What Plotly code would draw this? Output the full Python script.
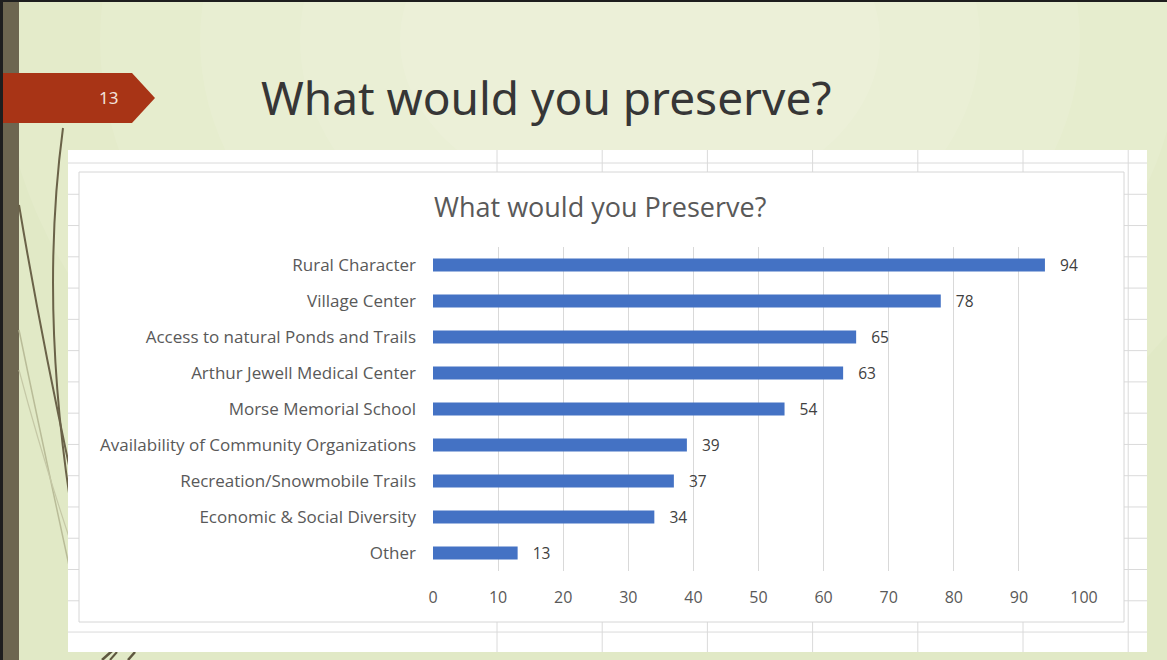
import plotly.graph_objects as go

# Survey responses: "What would you Preserve?"
categories = [
    "Rural Character",
    "Village Center",
    "Access to natural Ponds and Trails",
    "Arthur Jewell Medical Center",
    "Morse Memorial School",
    "Availability of Community Organizations",
    "Recreation/Snowmobile Trails",
    "Economic & Social Diversity",
    "Other",
]
responses = [94, 78, 65, 63, 54, 39, 37, 34, 13]
x_ticks = [0, 10, 20, 30, 40, 50, 60, 70, 80, 90, 100]

W, H = 1167, 660


def px(x):
    return x / W


def py(y):
    return 1 - y / H


def rect(x0, y0, x1, y1, fill, line=None, width=0, layer="below"):
    return dict(type="rect", xref="paper", yref="paper",
                x0=px(x0), x1=px(x1), y0=py(y1), y1=py(y0),
                fillcolor=fill, line=dict(color=line or fill, width=width),
                layer=layer)


def seg(x0, y0, x1, y1, color, width=1, layer="below"):
    return dict(type="line", xref="paper", yref="paper",
                x0=px(x0), x1=px(x1), y0=py(y0), y1=py(y1),
                line=dict(color=color, width=width), layer=layer)


def path(d_pts, color, width, fill=None, closed=False, layer="below"):
    parts = []
    for cmd, *coords in d_pts:
        conv = []
        for i in range(0, len(coords), 2):
            conv.append(f"{px(coords[i]):.5f},{py(coords[i + 1]):.5f}")
        parts.append(cmd + " " + " ".join(conv))
    d = " ".join(parts) + (" Z" if closed else "")
    s = dict(type="path", xref="paper", yref="paper", path=d,
             line=dict(color=color, width=width), layer=layer)
    if fill:
        s["fillcolor"] = fill
    return s


shapes = []

# soft light glow across the top of the slide (stacked translucent ellipses)
for rx, ry in [(640, 520), (540, 420), (440, 330), (340, 250), (240, 170)]:
    cx, cy = 640, 40
    shapes.append(dict(type="circle", xref="paper", yref="paper",
                       x0=px(cx - rx), x1=px(cx + rx), y0=py(cy + ry), y1=py(cy - ry),
                       fillcolor="rgba(255,255,248,0.10)", line=dict(width=0),
                       layer="below"))

# left frame strip and slide border
shapes.append(rect(0, 0, 19, 660, "#6d6650"))
shapes.append(rect(0, 0, 3, 660, "#1e1e1e"))
shapes.append(rect(0, 0, 1167, 2, "#1e1e1e"))

# grass strands along the left edge
shapes.append(path([("M", 63, 128), ("Q", 40, 300, 70, 500)], "#6a6248", 2))
shapes.append(path([("M", 19, 205), ("Q", 40, 330, 70, 470)], "#6a6248", 2))
shapes.append(path([("M", 19, 330), ("Q", 45, 455, 70, 570)], "#b9bc98", 1.5))
shapes.append(path([("M", 19, 370), ("Q", 40, 450, 70, 540)], "#c5c8a6", 1.2))
shapes.append(path([("M", 102, 660), ("L", 112, 651)], "#5e573f", 2.5))
shapes.append(path([("M", 110, 660), ("L", 117, 652)], "#5e573f", 2))
shapes.append(path([("M", 128, 660), ("L", 135, 652)], "#5e573f", 2.5))

# slide number tab
shapes.append(path([("M", 3, 73), ("L", 132, 73), ("L", 155, 98),
                    ("L", 132, 123), ("L", 3, 123)],
                   "#a83416", 0, fill="#a83416", closed=True))

# spreadsheet sheet behind the chart
grid_c = "#dadada"
shapes.append(rect(68, 150, 1147, 652, "#ffffff"))
row_ys = [163 + 31.27 * k for k in range(16)]
col_xs = [497 + 105.2 * k for k in range(7)]
for y in row_ys:
    shapes.append(seg(68, y, 1147, y, grid_c, 1))
for x in col_xs:
    shapes.append(seg(x, 150, x, 652, grid_c, 1))

# chart area
shapes.append(rect(79, 172, 1124, 622, "#ffffff", line="#d6d6d6", width=1))

fig = go.Figure()
fig.add_trace(go.Bar(
    x=responses,
    y=categories,
    orientation="h",
    marker=dict(color="#4472c4", line=dict(width=0)),
    text=responses,
    texttemplate="   %{text}",
    textposition="outside",
    constraintext="none",
    cliponaxis=False,
    textfont=dict(family="Open Sans", size=15.5, color="#404040"),
    hoverinfo="skip",
))

annotations = [
    dict(text="What would you preserve?", xref="paper", yref="paper",
         x=px(259), y=py(97), xanchor="left", yanchor="middle",
         showarrow=False,
         font=dict(family="Noto Sans", size=46, color="#363636")),
    dict(text="13", xref="paper", yref="paper",
         x=px(108), y=py(98), xanchor="center", yanchor="middle",
         showarrow=False,
         font=dict(family="Noto Sans", size=17, color="#f3e2dc")),
    dict(text="What would you Preserve?", xref="paper", yref="paper",
         x=px(600), y=py(206), xanchor="center", yanchor="middle",
         showarrow=False,
         font=dict(family="Open Sans", size=27, color="#595959")),
]

fig.update_layout(
    width=W, height=H,
    autosize=False,
    margin=dict(l=0, r=0, t=0, b=0, autoexpand=False),
    paper_bgcolor="#e1e9c6",
    plot_bgcolor="rgba(0,0,0,0)",
    showlegend=False,
    bargap=0.64,
    shapes=shapes,
    annotations=annotations,
    xaxis=dict(
        domain=[px(433), px(1084)],
        range=[0, 100],
        tickvals=x_ticks,
        showgrid=True, gridcolor="#d9d9d9", gridwidth=1,
        zeroline=False, showline=False,
        ticks="", ticklabelstandoff=15, automargin=False,
        tickfont=dict(family="Open Sans", size=16, color="#595959"),
        fixedrange=True,
    ),
    yaxis=dict(
        domain=[py(571), py(247)],
        autorange="reversed",
        showgrid=False, zeroline=False, showline=False,
        ticks="", ticklabelstandoff=16, automargin=False,
        tickfont=dict(family="Open Sans", size=17, color="#595959"),
        fixedrange=True,
    ),
)

page_js = (
    "document.documentElement.style.margin='0';"
    "document.body.style.margin='0';"
    "document.documentElement.style.overflow='hidden';"
    "document.body.style.overflow='hidden';"
    "Plotly.relayout(document.getElementById('{plot_id}'), {width: %d, height: %d});" % (W, H)
)

fig.write_html("out.html", config={"responsive": False, "displayModeBar": False},
               post_script=page_js)
